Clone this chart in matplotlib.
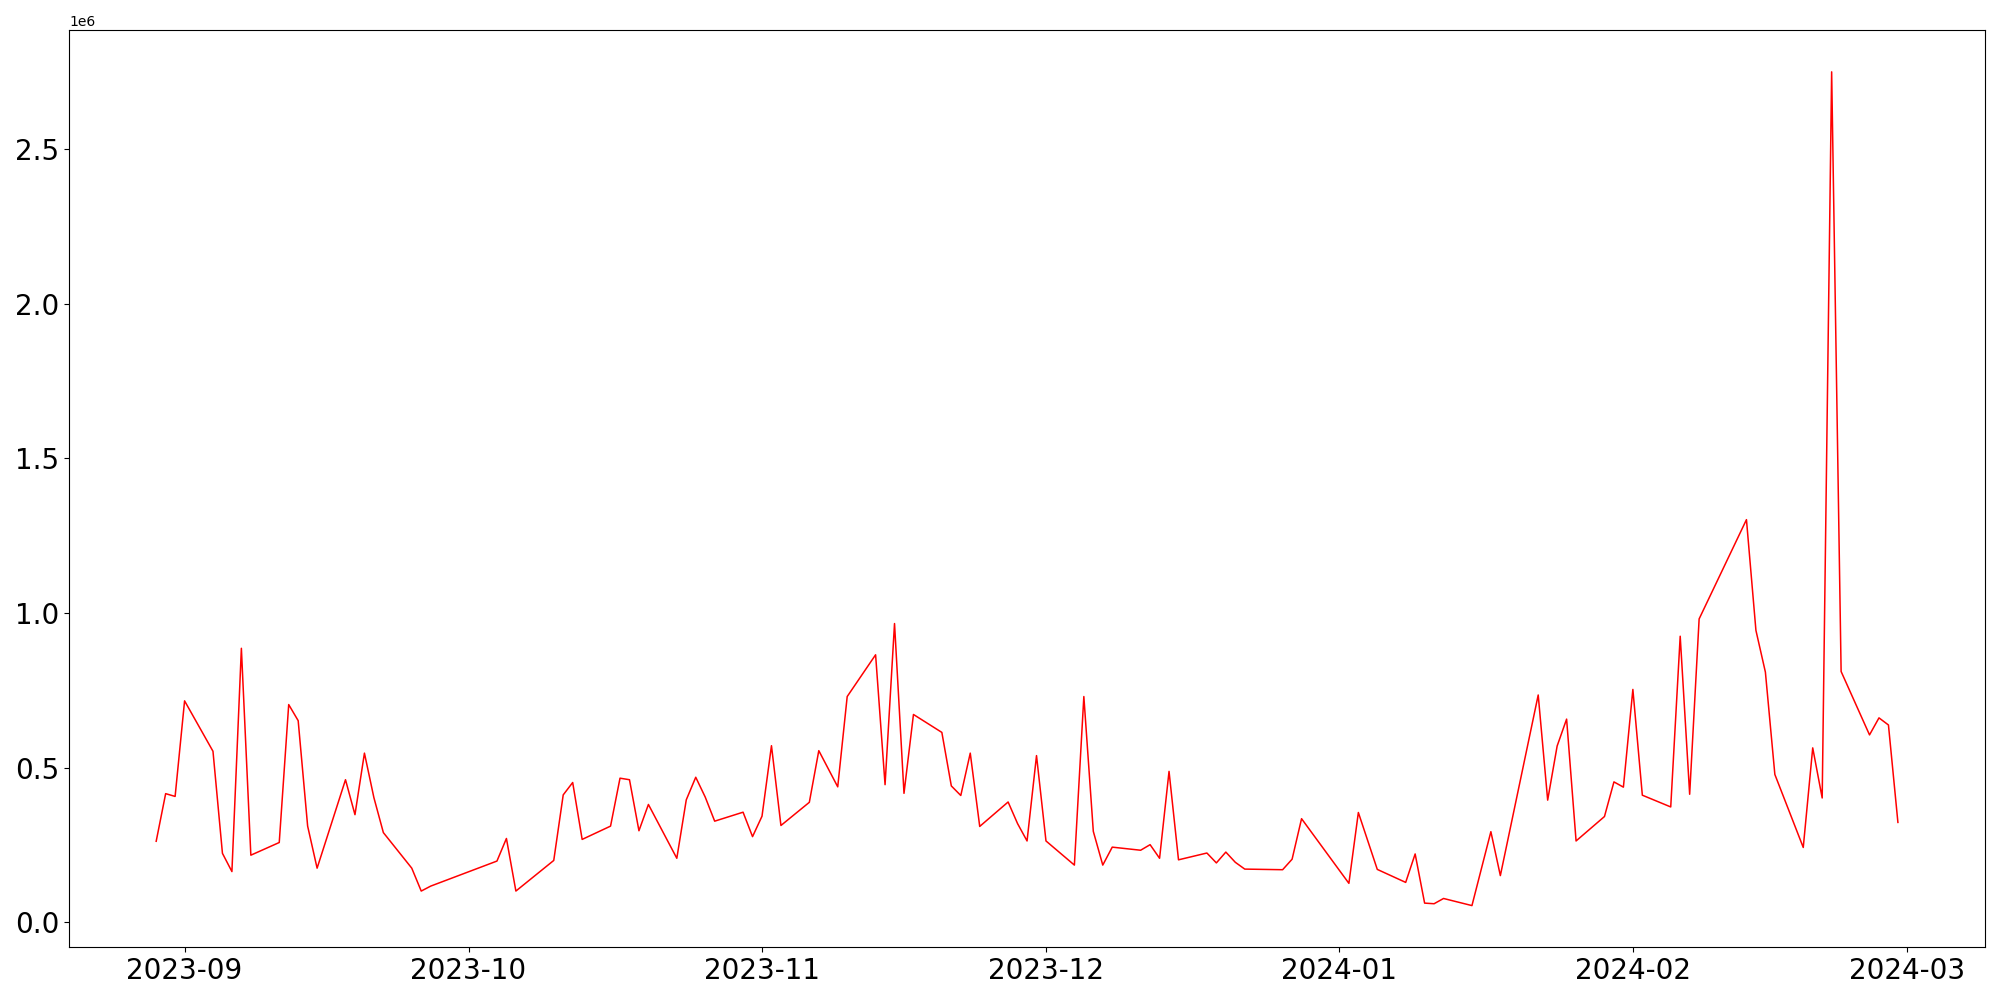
import matplotlib
matplotlib.use('Agg')
import matplotlib.pyplot as plt
import pandas as pd


dates = ['2023-08-29', '2023-08-30', '2023-08-31', '2023-09-01', '2023-09-04', '2023-09-05',
         '2023-09-06', '2023-09-07', '2023-09-08', '2023-09-11', '2023-09-12', '2023-09-13',
         '2023-09-14', '2023-09-15', '2023-09-18', '2023-09-19', '2023-09-20', '2023-09-21',
         '2023-09-22', '2023-09-25', '2023-09-26', '2023-09-27', '2023-10-04', '2023-10-05',
         '2023-10-06', '2023-10-10', '2023-10-11', '2023-10-12', '2023-10-13', '2023-10-16',
         '2023-10-17', '2023-10-18', '2023-10-19', '2023-10-20', '2023-10-23', '2023-10-24',
         '2023-10-25', '2023-10-26', '2023-10-27', '2023-10-30', '2023-10-31', '2023-11-01',
         '2023-11-02', '2023-11-03', '2023-11-06', '2023-11-07', '2023-11-09', '2023-11-10',
         '2023-11-13', '2023-11-14', '2023-11-15', '2023-11-16', '2023-11-17', '2023-11-20',
         '2023-11-21', '2023-11-22', '2023-11-23', '2023-11-24', '2023-11-27', '2023-11-28',
         '2023-11-29', '2023-11-30', '2023-12-01', '2023-12-04', '2023-12-05', '2023-12-06',
         '2023-12-07', '2023-12-08', '2023-12-11', '2023-12-12', '2023-12-13', '2023-12-14',
         '2023-12-15', '2023-12-18', '2023-12-19', '2023-12-20', '2023-12-21', '2023-12-22',
         '2023-12-26', '2023-12-27', '2023-12-28', '2024-01-02', '2024-01-03', '2024-01-05',
         '2024-01-08', '2024-01-09', '2024-01-10', '2024-01-11', '2024-01-12', '2024-01-15',
         '2024-01-17', '2024-01-18', '2024-01-22', '2024-01-23', '2024-01-24', '2024-01-25',
         '2024-01-26', '2024-01-29', '2024-01-30', '2024-01-31', '2024-02-01', '2024-02-02',
         '2024-02-05', '2024-02-06', '2024-02-07', '2024-02-08', '2024-02-13', '2024-02-14',
         '2024-02-15', '2024-02-16', '2024-02-19', '2024-02-20', '2024-02-21', '2024-02-22',
         '2024-02-23', '2024-02-26', '2024-02-27', '2024-02-28', '2024-02-29']

volume = [262000, 416000, 407000, 716000, 553000, 223000,
          164000, 886000, 217000, 258000, 704000, 652000,
          311000, 175000, 461000, 348000, 547000, 403000,
          290000, 175000, 101000, 117000, 198000, 271000,
          101000, 200000, 412000, 452000, 268000, 311000,
          466000, 461000, 296000, 381000, 207000, 396000,
          469000, 405000, 327000, 356000, 277000, 343000,
          571000, 313000, 388000, 555000, 438000, 730000,
          865000, 445000, 966000, 417000, 672000, 614000,
          441000, 410000, 547000, 310000, 389000, 319000,
          263000, 539000, 263000, 185000, 730000, 294000,
          185000, 243000, 233000, 251000, 207000, 488000,
          202000, 224000, 192000, 227000, 194000, 172000,
          170000, 204000, 335000, 126000, 355000, 171000,
          129000, 221000, 62000, 60000, 77000, 54000,
          293000, 151000, 735000, 395000, 570000, 657000,
          263000, 342000, 454000, 437000, 753000, 411000,
          373000, 925000, 414000, 981000, 1302000, 944000,
          809000, 478000, 242000, 564000, 402000, 2750000,
          811000, 606000, 661000, 638000, 323000]

df = pd.DataFrame({'volume': volume}, index=pd.to_datetime(dates))

fig, ax = plt.subplots(figsize=(20, 10), dpi=100)
ax.plot(df.index, df['volume'], c='red', linewidth=1.1)
ax.tick_params(labelsize=20)
plt.tight_layout()
plt.savefig('out.png')
